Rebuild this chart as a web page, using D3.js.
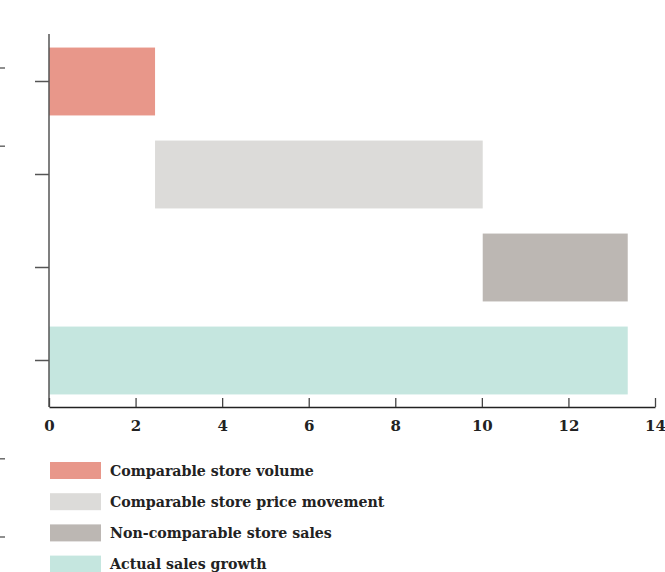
<!DOCTYPE html>
<html>
<head>
<meta charset="utf-8">
<script src="https://cdn.jsdelivr.net/npm/d3@7"></script>
<style>
  html, body { margin: 0; padding: 0; background: #fff; }
  svg { display: block; }
  text { font-family: "DejaVu Serif", "Liberation Serif", serif; font-weight: bold; fill: #222; }
</style>
</head>
<body>
<svg id="chart" width="665" height="572"></svg>
<script>
// Sales growth bridge: contributions stacked into the total
const categories = ["Comparable store volume", "Comparable store price movement", "Non-comparable store sales", "Actual sales growth"];
const increments = [2.45, 7.57, 3.35];   // percentage points added by each driver
const totalGrowth = 13.37;               // resulting sales growth, %
const colors = ["#e8978a", "#dcdbd9", "#bcb7b3", "#c5e6df"];
const xTicks = [0, 2, 4, 6, 8, 10, 12, 14];

// start/end of each floating bar
const bars = [];
let running = 0;
increments.forEach((v, i) => {
  bars.push({ name: categories[i], start: running, end: running + v, color: colors[i] });
  running += v;
});
bars.push({ name: categories[3], start: 0, end: totalGrowth, color: colors[3] });

const svg = d3.select("#chart");
const margin = { left: 49, top: 34 };

const x = d3.scaleLinear().domain([0, 14]).range([margin.left, 655]);
const y = d3.scaleBand().domain(categories).range([margin.top + 1, 407]).paddingInner(0.27).paddingOuter(0.135);

// edge of a neighbouring panel's axis
const sideIdx = d3.range(7);
const side = d3.scalePoint().domain(sideIdx).range([68, 537]);
svg.append("g").selectAll("line").data([0, 1, 5, 6]).join("line")
  .attr("x1", -2).attr("x2", 5)
  .attr("y1", d => side(d)).attr("y2", d => side(d))
  .attr("stroke", "#444").attr("stroke-width", 1.2);

// bars
svg.append("g").selectAll("rect").data(bars).join("rect")
  .attr("x", d => x(d.start))
  .attr("width", d => x(d.end) - x(d.start))
  .attr("y", d => y(d.name))
  .attr("height", y.bandwidth())
  .attr("fill", d => d.color);

// y axis (unlabelled ticks)
const yAxis = svg.append("g").attr("transform", `translate(${margin.left},0)`)
  .call(d3.axisLeft(y).tickSize(14).tickFormat(""));
yAxis.select(".domain").attr("stroke", "#555").attr("stroke-width", 1.5)
  .attr("d", `M0,${margin.top}V407`);
yAxis.selectAll(".tick line").attr("stroke", "#555").attr("stroke-width", 1.5);

// x axis with inward ticks
const xAxis = svg.append("g").attr("transform", "translate(0,407)")
  .call(d3.axisBottom(x).tickValues(xTicks).tickSize(-9).tickSizeOuter(0).tickPadding(0).tickFormat(d3.format("d")));
xAxis.select(".domain").attr("stroke", "#222").attr("stroke-width", 1.5);
xAxis.selectAll(".tick line").attr("stroke", "#444").attr("stroke-width", 1.3);
xAxis.selectAll(".tick text")
  .attr("y", 24).attr("dy", 0)
  .style("font-family", "'DejaVu Serif', serif")
  .style("font-weight", "bold")
  .style("font-size", "15px")
  .attr("fill", "#222");

// legend
const legend = svg.append("g").attr("transform", "translate(50,462)");
const row = legend.selectAll("g").data(categories).join("g")
  .attr("transform", (d, i) => `translate(0,${i * 31.2})`);
row.append("rect").attr("width", 51).attr("height", 17).attr("fill", (d, i) => colors[i]);
row.append("text").attr("x", 60).attr("y", 13.5)
  .style("font-size", "14.2px")
  .text(d => d);
</script>
</body>
</html>
